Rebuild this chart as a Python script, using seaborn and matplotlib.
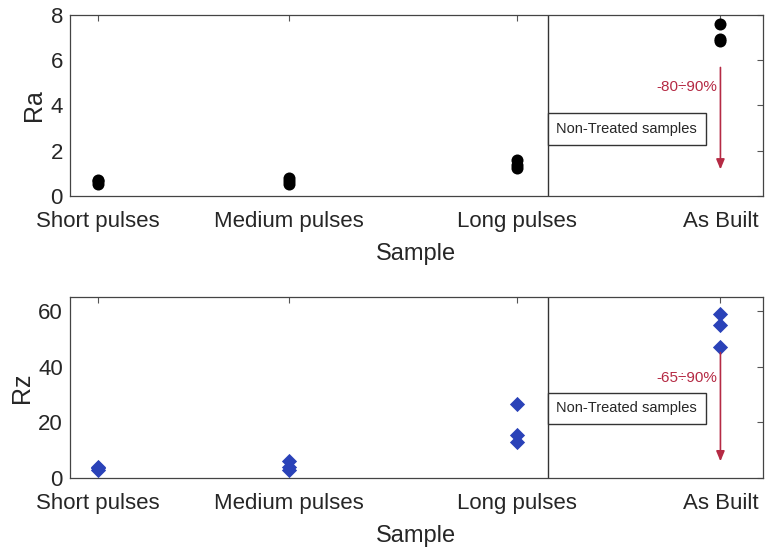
import matplotlib
matplotlib.use("Agg")
import matplotlib.pyplot as plt
import seaborn as sns
import pandas as pd

sns.set_style("white")
plt.rcParams['font.family'] = ['Liberation Sans', 'DejaVu Sans']

categories = ["Short pulses", "Medium pulses", "Long pulses", "As Built"]
cat_pos = [0.0, 1.0, 2.194, 3.261]
ra_values = [[0.55, 0.65, 0.7], [0.55, 0.65, 0.8], [1.25, 1.35, 1.6], [6.85, 6.95, 7.6]]
rz_values = [[2.8, 3.5, 4.0], [3.0, 4.0, 6.0], [13.0, 15.5, 26.5], [47.0, 55.0, 59.0]]
ra_ticks = [0, 2, 4, 6, 8]
rz_ticks = [0, 20, 40, 60]
ra_note = "-80÷90%"
rz_note = "-65÷90%"
box_text = "Non-Treated samples"

rows = []
for c, p, ra, rz in zip(categories, cat_pos, ra_values, rz_values):
    for a, z in zip(ra, rz):
        rows.append({"Sample": c, "x": p, "Ra": a, "Rz": z})
df = pd.DataFrame(rows)

fig = plt.figure(figsize=(7.68, 5.52), dpi=100)
ax1 = fig.add_axes([0.091, 0.645, 0.902, 0.328])
ax2 = fig.add_axes([0.091, 0.134, 0.902, 0.328])

sns.scatterplot(data=df, x="x", y="Ra", ax=ax1, color="black", marker="o",
                s=75, edgecolor="black", linewidth=0, zorder=3)
sns.scatterplot(data=df, x="x", y="Rz", ax=ax2, color="#2a42b8", marker="D",
                s=60, edgecolor="#2a42b8", linewidth=0, zorder=3)

sep = 2.357
txt = "#262626"
for ax, ylim, ticks, ylabel in [(ax1, (0, 8), ra_ticks, "Ra"), (ax2, (0, 65), rz_ticks, "Rz")]:
    ax.set_xlim(-0.147, 3.482)
    ax.set_ylim(*ylim)
    ax.set_xticks(cat_pos)
    ax.set_xticklabels(categories, fontsize=16, color=txt)
    ax.set_yticks(ticks)
    ax.tick_params(axis='y', labelsize=16, labelcolor=txt, pad=5)
    ax.tick_params(axis='x', pad=11)
    ax.tick_params(direction='in', top=True, right=True, length=4, color='#555555', width=0.8)
    ax.set_xlabel("Sample", fontsize=17, color=txt, labelpad=8)
    ax.set_ylabel(ylabel, fontsize=18, color=txt, labelpad=3)
    ax.axvline(sep, color="#333333", linewidth=1.0)
    for sp in ax.spines.values():
        sp.set_color("#444444")
        sp.set_linewidth(0.9)

ax1.text(2.77, 2.95, box_text, fontsize=10.5, color=txt, ha="center", va="center",
         bbox=dict(boxstyle="square,pad=0.6", fc="white", ec="#333333", lw=1.0))
ax2.text(2.77, 25, box_text, fontsize=10.5, color=txt, ha="center", va="center",
         bbox=dict(boxstyle="square,pad=0.6", fc="white", ec="#333333", lw=1.0))

red = "#b52a44"
ax1.annotate("", xy=(cat_pos[3], 1.05), xytext=(cat_pos[3], 5.8),
             arrowprops=dict(arrowstyle="-|>,head_width=0.25,head_length=0.6", color=red, lw=1.2))
ax1.text(cat_pos[3] - 0.015, 4.8, ra_note, color=red, fontsize=11, ha="right", va="center")
ax2.annotate("", xy=(cat_pos[3], 5), xytext=(cat_pos[3], 46),
             arrowprops=dict(arrowstyle="-|>,head_width=0.25,head_length=0.6", color=red, lw=1.2))
ax2.text(cat_pos[3] - 0.015, 36, rz_note, color=red, fontsize=11, ha="right", va="center")

fig.savefig("out.png", dpi=100)
